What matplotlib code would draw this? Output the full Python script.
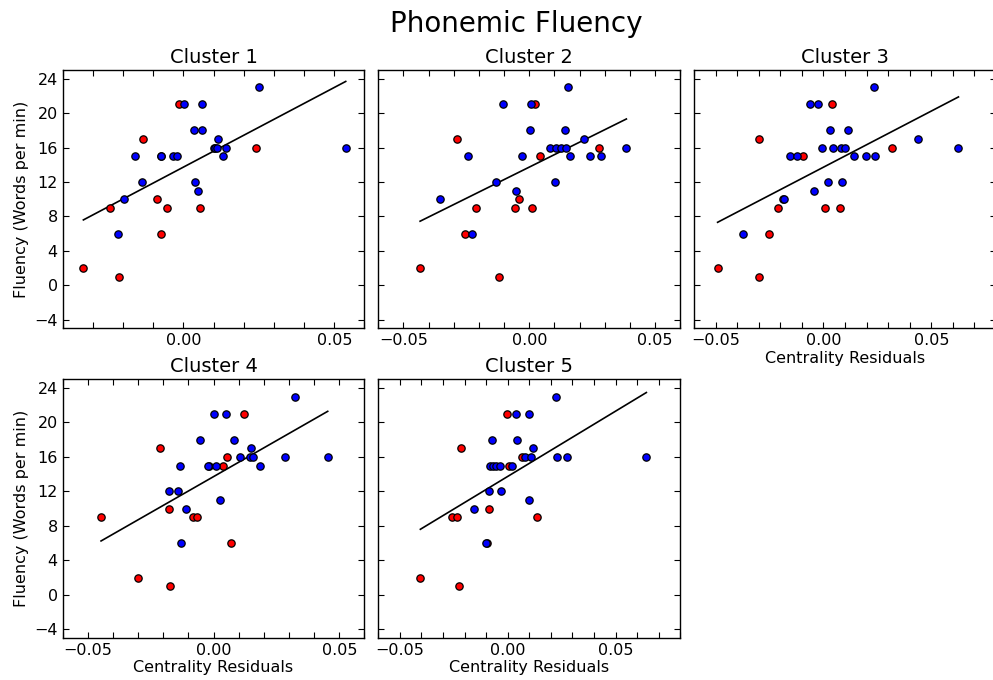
import matplotlib
matplotlib.use('Agg')
import matplotlib.pyplot as plt
from matplotlib.ticker import MultipleLocator
import numpy as np

# fluency scores, same participants in every panel
red_y = [2, 1, 6, 9, 9, 9, 10, 15, 16, 17, 21]
blue_y = [6, 10, 11, 12, 12, 15, 15, 15, 15, 15, 16, 16, 16, 16, 16, 17, 18, 18, 21, 21, 23]

# centrality residuals per cluster
red_x1 = [-0.0331, -0.0214, -0.0074, -0.0242, -0.0055, 0.0056, -0.0086, -0.0075, 0.0242, -0.0132, -0.0014]
blue_x1 = [-0.0215, -0.0196, 0.0049, -0.0136, 0.0038, -0.0160, -0.0073, -0.0035, -0.0020, 0.0132,
           0.0102, 0.0106, 0.0110, 0.0142, 0.0538, 0.0116, 0.0035, 0.0063, 0.0003, 0.0063, 0.0251]

red_x2 = [-0.0434, -0.0122, -0.0255, -0.0211, -0.0058, 0.0009, -0.0039, 0.0041, 0.0279, -0.0289, 0.0021]
blue_x2 = [-0.0226, -0.0353, -0.0053, -0.0134, 0.0103, -0.0242, -0.0030, 0.0163, 0.0243, 0.0286,
           0.0083, 0.0105, 0.0128, 0.0145, 0.0386, 0.0218, 0.0004, 0.0142, -0.0103, 0.0008, 0.0155]

red_x3 = [-0.0491, -0.0297, -0.0252, -0.0210, 0.0006, 0.0076, -0.0186, -0.0097, 0.0320, -0.0298, 0.0039]
blue_x3 = [-0.0371, -0.0184, -0.0042, 0.0023, 0.0085, -0.0156, -0.0122, 0.0141, 0.0196, 0.0238,
           -0.0005, 0.0042, 0.0082, 0.0100, 0.0626, 0.0440, 0.0028, 0.0114, -0.0063, -0.0026, 0.0233]

red_x4 = [-0.0302, -0.0173, 0.0071, -0.0447, -0.0082, -0.0067, -0.0176, 0.0037, 0.0054, -0.0212, 0.0122]
blue_x4 = [-0.0130, -0.0111, 0.0026, -0.0176, -0.0143, -0.0134, -0.0016, -0.0020, 0.0008, 0.0185,
           0.0104, 0.0147, 0.0159, 0.0286, 0.0454, 0.0148, -0.0053, 0.0081, 0.0001, 0.0050, 0.0324]

red_x5 = [-0.0405, -0.0225, -0.0098, -0.0260, -0.0234, 0.0137, -0.0088, 0.0005, 0.0068, -0.0215, -0.0002]
blue_x5 = [-0.0100, -0.0155, 0.0100, -0.0089, -0.0031, -0.0082, -0.0066, -0.0054, -0.0037, 0.0022,
           0.0078, 0.0108, 0.0228, 0.0274, 0.0643, 0.0117, -0.0074, 0.0042, 0.0037, 0.0098, 0.0222]

red_x = [red_x1, red_x2, red_x3, red_x4, red_x5]
blue_x = [blue_x1, blue_x2, blue_x3, blue_x4, blue_x5]
xlims = [(-0.04, 0.06), (-0.06, 0.06), (-0.06, 0.08), (-0.06, 0.06), (-0.06, 0.08)]
xticks = [-0.05, 0.0, 0.05]
xticklabels = ['\u22120.05', '0.00', '0.05']

fig, axes = plt.subplots(2, 3, figsize=(9.93, 6.8), dpi=100)
plt.subplots_adjust(left=0.063, right=1.003, top=0.897, bottom=0.062, wspace=0.046, hspace=0.197)
axes = axes.flatten()
axes[5].axis('off')

for i in range(5):
    ax = axes[i]
    rx = np.array(red_x[i])
    bx = np.array(blue_x[i])
    allx = np.concatenate([rx, bx])
    ally = np.concatenate([red_y, blue_y])
    m, b = np.polyfit(allx, ally, 1)
    xx = np.array([allx.min(), allx.max()])
    ax.plot(xx, m*xx + b, color='k', lw=1.2)
    ax.scatter(rx, red_y, c='#ff0000', s=28, edgecolors='k', linewidths=0.9, zorder=3)
    ax.scatter(bx, blue_y, c='#0000ff', s=28, edgecolors='k', linewidths=0.9, zorder=3)

    ax.set_xticks(xticks)
    ax.set_xticklabels(xticklabels)
    ax.xaxis.set_minor_locator(MultipleLocator(0.01))
    ax.set_xlim(xlims[i])
    ax.set_ylim(-5, 25)
    ax.yaxis.set_major_locator(MultipleLocator(4))
    ax.tick_params(which='both', direction='in', top=True, right=True, length=4, width=0.8, labelsize=11.5)
    for s in ax.spines.values():
        s.set_linewidth(1.0)
    ax.set_title('Cluster %d' % (i + 1), fontsize=14, pad=5)
    if i in (1, 2, 4):
        ax.tick_params(labelleft=False)
    if i in (0, 3):
        ax.set_ylabel('Fluency (Words per min)', fontsize=11.5)
    if i in (2, 3, 4):
        ax.set_xlabel('Centrality Residuals', fontsize=11.5, labelpad=2)

fig.suptitle('Phonemic Fluency', fontsize=20, x=0.52, y=0.985)
fig.savefig('out.png', dpi=100)
